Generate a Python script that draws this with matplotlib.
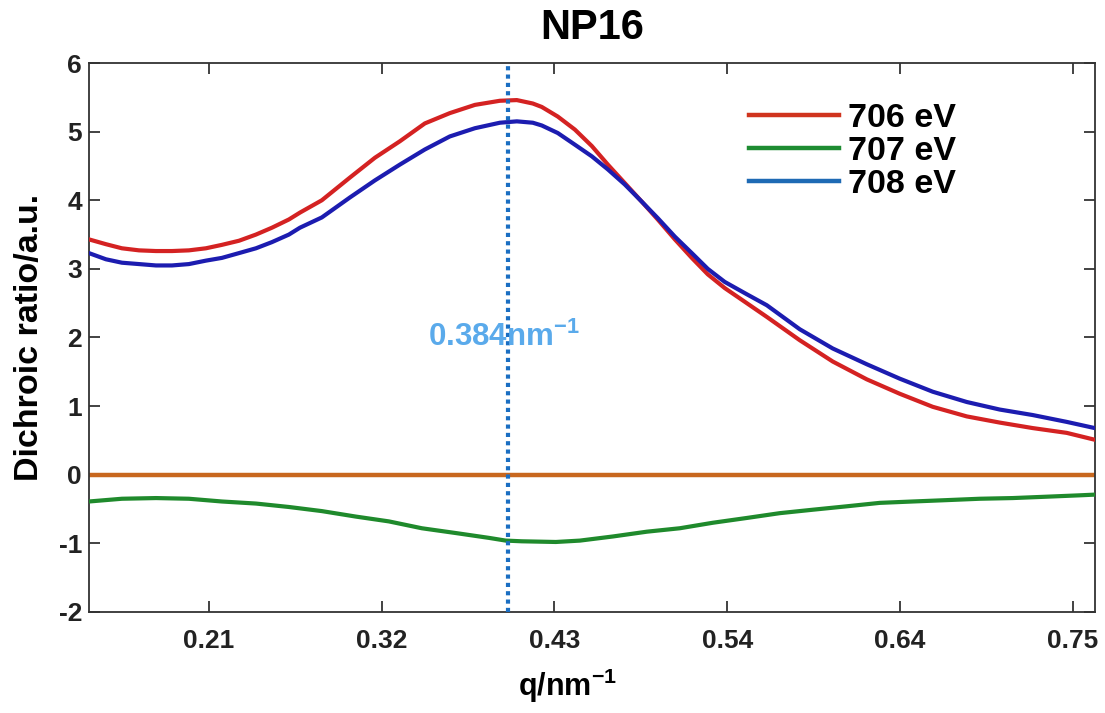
import matplotlib
matplotlib.use("Agg")
import matplotlib.pyplot as plt
from matplotlib.lines import Line2D

plt.rcParams['font.family'] = ['Liberation Sans', 'DejaVu Sans']
plt.rcParams['font.weight'] = 'bold'
plt.rcParams['axes.unicode_minus'] = False
plt.rcParams['mathtext.fontset'] = 'custom'
plt.rcParams['mathtext.rm'] = 'Liberation Sans:bold'
plt.rcParams['mathtext.bf'] = 'Liberation Sans:bold'

# ---- data ----
q_706 = [0.137, 0.1476, 0.1576, 0.1683, 0.1789, 0.1889, 0.1995, 0.2101, 0.2201, 0.2308,
         0.2414, 0.2514, 0.262, 0.2689, 0.2826, 0.3001, 0.3158, 0.3314, 0.347, 0.3626,
         0.3783, 0.3939, 0.4045, 0.4145, 0.4201, 0.4301, 0.4408, 0.4514, 0.4614, 0.472,
         0.4826, 0.4926, 0.5033, 0.5139, 0.5239, 0.5345, 0.5483, 0.5608, 0.5814, 0.602,
         0.6233, 0.6439, 0.6645, 0.6858, 0.7064, 0.727, 0.7483, 0.7658]
r_706 = [3.43, 3.36, 3.30, 3.27, 3.26, 3.26, 3.27, 3.30, 3.35, 3.41,
         3.50, 3.60, 3.72, 3.82, 4.00, 4.33, 4.62, 4.86, 5.12, 5.27,
         5.39, 5.45, 5.46, 5.41, 5.36, 5.22, 5.03, 4.79, 4.52, 4.25,
         3.98, 3.72, 3.43, 3.16, 2.92, 2.72, 2.50, 2.30, 1.96, 1.65,
         1.39, 1.18, 0.99, 0.85, 0.76, 0.68, 0.61, 0.51]

q_708 = [0.137, 0.1476, 0.1576, 0.1683, 0.1789, 0.1889, 0.1995, 0.2101, 0.2201, 0.2308,
         0.2414, 0.2514, 0.262, 0.2689, 0.2826, 0.3001, 0.3158, 0.3314, 0.347, 0.3626,
         0.3783, 0.3939, 0.4045, 0.4145, 0.4201, 0.4301, 0.4408, 0.4514, 0.4614, 0.472,
         0.4826, 0.4926, 0.5033, 0.5139, 0.5239, 0.5345, 0.5483, 0.5608, 0.5814, 0.602,
         0.6233, 0.6439, 0.6645, 0.6858, 0.7064, 0.727, 0.7483, 0.7658]
r_708 = [3.23, 3.14, 3.09, 3.07, 3.05, 3.05, 3.07, 3.12, 3.16, 3.23,
         3.30, 3.39, 3.50, 3.60, 3.75, 4.04, 4.29, 4.52, 4.74, 4.93,
         5.05, 5.13, 5.15, 5.13, 5.09, 4.98, 4.81, 4.64, 4.45, 4.23,
         3.98, 3.74, 3.47, 3.23, 3.00, 2.81, 2.63, 2.47, 2.12, 1.84,
         1.61, 1.40, 1.21, 1.06, 0.95, 0.87, 0.77, 0.68]

q_707 = [0.137, 0.1576, 0.1789, 0.1995, 0.2201, 0.2414, 0.262, 0.2826, 0.3039, 0.3245,
         0.3451, 0.3664, 0.387, 0.3976, 0.4076, 0.4289, 0.4439, 0.4645, 0.4858, 0.5064,
         0.527, 0.5483, 0.5689, 0.5895, 0.6108, 0.6314, 0.652, 0.6733, 0.6939, 0.7145,
         0.7358, 0.7564, 0.7658]
r_707 = [-0.39, -0.35, -0.34, -0.35, -0.39, -0.42, -0.47, -0.53, -0.61, -0.68,
         -0.78, -0.85, -0.92, -0.96, -0.97, -0.98, -0.96, -0.90, -0.83, -0.78,
         -0.70, -0.63, -0.56, -0.51, -0.46, -0.41, -0.39, -0.37, -0.35, -0.34,
         -0.32, -0.30, -0.29]

labels = ['706 eV', '707 eV', '708 eV']
peak_q = 0.399
peak_text = '0.384nm$^{-1}$'
xticks = [0.212, 0.320, 0.428, 0.536, 0.644, 0.752]
yticks = [-2, -1, 0, 1, 2, 3, 4, 5, 6]

# ---- figure ----
fig = plt.figure(figsize=(11.05, 7.13), dpi=100)
ax = fig.add_axes([0.0805, 0.1417, 0.9105, 0.7699])

ax.axhline(0, color='#c8671e', lw=3.2, zorder=2)
ax.plot(q_707, r_707, color='#1f8a2c', lw=3.0, zorder=3)
ax.plot(q_706, r_706, color='#d42222', lw=3.0, zorder=3)
ax.plot(q_708, r_708, color='#1c1cb0', lw=3.0, zorder=4)
ax.axvline(peak_q, color='#1a6ec2', lw=3.0, ls=(0, (1, 1)), zorder=5)
ax.text(0.3965, 2.0, peak_text, color='#5aaaeb', fontsize=22.5,
        fontweight='bold', ha='center', va='center', zorder=6)

ax.set_xlim(0.137, 0.766)
ax.set_ylim(-2, 6)
ax.set_xticks(xticks)
ax.set_xticklabels(['%.2f' % t for t in xticks])
ax.set_yticks(yticks)
ax.tick_params(direction='in', length=8, width=1.2, top=True, right=True,
               labelsize=19, colors='#222222')
ax.tick_params(axis='y', pad=5)
ax.tick_params(axis='x', pad=12)
for s in ax.spines.values():
    s.set_linewidth(1.3)
    s.set_color('#333333')

ax.set_xlabel('q/nm$^{-1}$', fontsize=22, fontweight='bold', labelpad=10, x=0.476)
ax.set_ylabel('Dichroic ratio/a.u.', fontsize=24.5, fontweight='bold', labelpad=10)
ax.set_title('NP16', fontsize=30, fontweight='bold', pad=17)

handles = [Line2D([], [], color=c, lw=3.2) for c in ['#d0341e', '#1e8c32', '#1e6ab4']]
ax.legend(handles, labels, loc='upper left', bbox_to_anchor=(0.656, 0.927),
          frameon=False, fontsize=24.5, handlelength=2.65, handletextpad=0.27,
          labelspacing=0.06, borderpad=0, borderaxespad=0)

fig.savefig('out.png', dpi=100)
